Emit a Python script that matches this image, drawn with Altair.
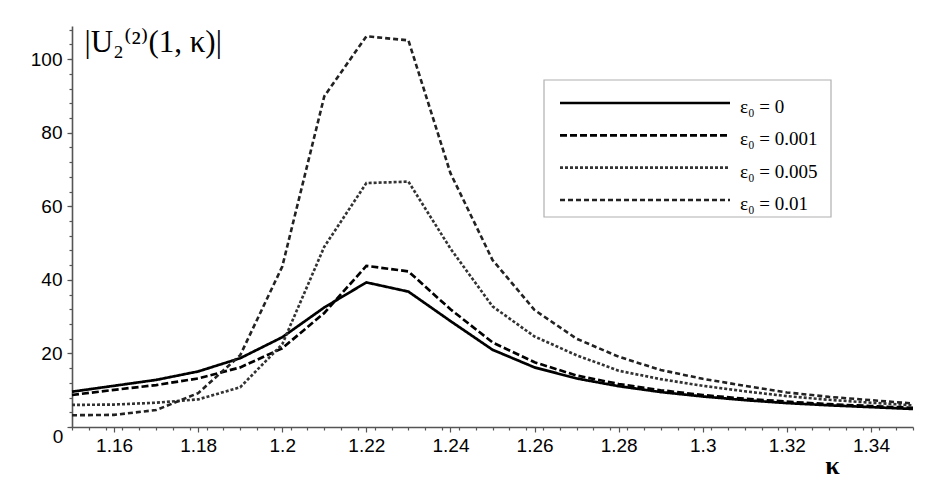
import altair as alt
import pandas as pd

# ---- data ----
kappa = [1.15, 1.16, 1.17, 1.18, 1.19, 1.20, 1.21, 1.22, 1.23, 1.24, 1.25,
         1.26, 1.27, 1.28, 1.29, 1.30, 1.31, 1.32, 1.33, 1.34, 1.35]
u_eps_0 = [9.6, 11.2, 12.8, 15.1, 18.7, 24.4, 32.5, 39.3, 36.8, 28.8, 21.0,
           16.2, 13.2, 11.1, 9.5, 8.3, 7.3, 6.5, 5.9, 5.4, 4.9]
u_eps_0001 = [8.7, 10.1, 11.4, 13.2, 16.2, 21.4, 31.0, 43.8, 42.3, 32.0, 23.0,
              17.6, 14.0, 11.7, 10.0, 8.7, 7.7, 6.9, 6.2, 5.7, 5.2]
u_eps_0005 = [6.0, 6.1, 6.6, 7.5, 10.8, 22.5, 49.0, 66.3, 66.7, 48.5, 32.8,
              24.6, 19.5, 15.3, 13.0, 11.2, 9.7, 8.4, 7.4, 6.6, 5.9]
u_eps_001 = [3.2, 3.3, 4.6, 9.2, 19.5, 43.6, 89.9, 106.2, 105.1, 69.0, 45.4,
             31.8, 24.0, 19.1, 15.5, 13.1, 11.2, 9.4, 8.2, 7.3, 6.4]
eps_labels = ["ε₀ = 0", "ε₀ = 0.001", "ε₀ = 0.005", "ε₀ = 0.01"]

x_major = [1.16, 1.18, 1.2, 1.22, 1.24, 1.26, 1.28, 1.3, 1.32, 1.34]
y_major = [0, 20, 40, 60, 80, 100]
x_minor = [round(1.15 + 0.004 * i, 3) for i in range(51)]
y_minor = [4 * i for i in range(28)]

rows = []
for lab, vals in zip(eps_labels, [u_eps_0, u_eps_0001, u_eps_0005, u_eps_001]):
    for k, v in zip(kappa, vals):
        rows.append({"kappa": k, "U": v, "eps": lab})
df = pd.DataFrame(rows)

W, H = 841, 401
SERIF = "Liberation Serif, DejaVu Serif, serif"
SANS = "Liberation Sans, Arial, sans-serif"

x_scale = alt.Scale(domain=[1.15, 1.35], nice=False, zero=False)
y_scale = alt.Scale(domain=[0, 109], nice=False, zero=True)
dash_scale = alt.Scale(domain=eps_labels, range=[[1, 0], [7, 3], [3, 2], [5, 3]])
sw_scale = alt.Scale(domain=eps_labels, range=[2.7, 2.6, 1.0, 1.1])
col_scale = alt.Scale(domain=eps_labels, range=["#000000", "#000000", "#333333", "#222222"])

lines = alt.Chart(df).mark_line(strokeCap="butt").encode(
    x=alt.X("kappa:Q", scale=x_scale,
            axis=alt.Axis(values=x_major, format=".2~f", title="κ", grid=False,
                          tickSize=5, labelPadding=4, labelFlush=False, labelOverlap=False,
                          titleFont=SERIF, titleFontSize=26, titleFontWeight="bold",
                          titleX=760, titleY=38, titleAlign="center", titleBaseline="middle")),
    y=alt.Y("U:Q", scale=y_scale,
            axis=alt.Axis(values=y_major, labelExpr="datum.value == 0 ? '' : datum.label",
                          title="|U₂⁽²⁾(1, κ)|", grid=False, tickSize=5, labelPadding=5,
                          titleFont=SERIF, titleFontSize=31, titleFontWeight="normal",
                          titleAngle=0, titleAlign="left", titleBaseline="middle",
                          titleX=12, titleY=16)),
    strokeDash=alt.StrokeDash("eps:N", scale=dash_scale, legend=None),
    strokeWidth=alt.StrokeWidth("eps:N", scale=sw_scale, legend=None),
    color=alt.Color("eps:N", scale=col_scale, legend=None),
)

zero_df = pd.DataFrame({"kappa": [1.15], "U": [0], "t": ["0"]})
zero = alt.Chart(zero_df).mark_text(dx=-14, dy=10, font=SANS, fontSize=19,
                                     color="black").encode(
    x=alt.X("kappa:Q", scale=x_scale,
            axis=alt.Axis(orient="bottom", values=x_minor, labels=False, domain=False,
                          tickSize=3, title=None, grid=False)),
    y=alt.Y("U:Q", scale=y_scale,
            axis=alt.Axis(orient="left", values=y_minor, labels=False, domain=False,
                          tickSize=3, title=None, grid=False)),
    text="t:N",
)

data_group = alt.layer(lines, zero).resolve_axis(x="independent", y="independent")

# ---- legend ----
leg_df = pd.DataFrame({"eps": eps_labels})
box_df = pd.DataFrame({"b": [0]})
leg_y = alt.Scale(type="point", domain=eps_labels, range=[77, 174], padding=0)

leg_box = alt.Chart(box_df).mark_rect(fill="white", stroke="#b0b0b0",
                                      strokeWidth=1.2).encode(
    x=alt.value(472), x2=alt.value(759), y=alt.value(54), y2=alt.value(191))
leg_lines = alt.Chart(leg_df).mark_rule(strokeCap="butt").encode(
    x=alt.value(488), x2=alt.value(658),
    y=alt.Y("eps:N", scale=leg_y, axis=None),
    strokeDash=alt.StrokeDash("eps:N", scale=dash_scale, legend=None),
    strokeWidth=alt.StrokeWidth("eps:N", scale=sw_scale, legend=None),
    color=alt.Color("eps:N", scale=col_scale, legend=None),
)
leg_text = alt.Chart(leg_df).mark_text(align="left", baseline="middle", dy=4,
                                       font=SERIF, fontSize=19, color="black").encode(
    x=alt.value(668),
    y=alt.Y("eps:N", scale=leg_y, axis=None),
    text="eps:N",
)
legend = alt.layer(leg_box, leg_lines, leg_text)

chart = alt.layer(data_group, legend).resolve_scale(y="independent").properties(
    width=W, height=H,
    padding={"left": 64, "top": 18, "right": 10, "bottom": 56},
    autosize=alt.AutoSizeParams(type="none"),
    background="white",
).configure_view(stroke=None).configure_axis(
    labelFont=SANS, labelFontSize=19, labelColor="black",
    domainColor="#555", domainWidth=1.6, tickColor="#555", tickWidth=1.2,
    titleColor="black",
)

chart.save("out.html", embed_options={"renderer": "svg", "actions": False})
